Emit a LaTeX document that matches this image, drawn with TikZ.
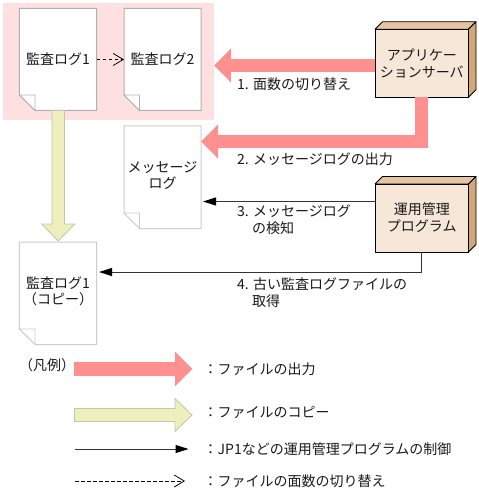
\documentclass[tikz,border=0pt]{standalone}
\usepackage{fontspec}
\setmainfont{Noto Sans CJK JP}
\usetikzlibrary{arrows.meta,calc,backgrounds}
\definecolor{pinkarrow}{HTML}{FF9090}
\definecolor{pinkgroup}{HTML}{FFE0E0}
\definecolor{yellowarrow}{HTML}{EFEFBD}
\definecolor{yellowedge}{HTML}{C4C4B0}
\definecolor{boxfront}{HTML}{F6E7D8}
\definecolor{boxtop}{HTML}{E6C4A2}
\definecolor{boxside}{HTML}{D3A878}
\definecolor{docdark}{HTML}{B0B0B0}
\definecolor{doclight}{HTML}{CCCCCC}
\tikzset{
  x=1bp,y=-1bp,
  lbl/.style={font=\fontsize{14bp}{17bp}\selectfont,inner sep=0pt,text=black!90},
  docnode/.style={lbl,minimum width=77bp,minimum height=102bp,align=center,outer sep=0pt},
  servernode/.style={lbl,draw=black,line width=0.8bp,fill=boxfront,minimum width=93.5bp,minimum height=68bp,align=center,outer sep=0pt},
  boxface/.style={draw=black,line width=0.8bp,line join=round},
  pinkline/.style={draw=pinkarrow,line width=13bp,line join=miter,-{Triangle[length=17bp,width=33bp]}},
  yellowpoly/.style={draw=yellowedge,line width=0.8bp,fill=yellowarrow,line join=miter},
  ctrlline/.style={draw=black!80,line width=1bp,-{Triangle[length=13bp,width=8bp,black]}},
  switchline/.style={draw=black,line width=0.8bp,dash pattern=on 3.5bp off 2.5bp,-{Straight Barb[length=10bp,width=12bp,line width=0.8bp]}},
}
\newcommand{\docoutline}[2]{%
  \begin{scope}[on background layer]
    \draw[#2,line width=1bp,fill=white] (#1.north west) -- (#1.north east) -- (#1.south east)
      -- ($(#1.south west)+(15.5,0)$) -- ($(#1.south west)+(0,-15.5)$) -- cycle;
    \draw[#2,line width=0.8bp,fill=white] ($(#1.south west)+(0,-15.5)$) -- ($(#1.south west)+(15.5,-15.5)$)
      -- ($(#1.south west)+(15.5,0)$) -- cycle;
  \end{scope}}
\newcommand{\boxfaces}[1]{%
  \draw[boxface,fill=boxtop] (#1.north west) -- ($(#1.north west)+(7.5,-7.5)$) -- ($(#1.north east)+(7.5,-7.5)$) -- (#1.north east) -- cycle;
  \draw[boxface,fill=boxside] (#1.north east) -- ($(#1.north east)+(7.5,-7.5)$) -- ($(#1.south east)+(7.5,-7.5)$) -- (#1.south east) -- cycle;}
\begin{document}
\begin{tikzpicture}
\useasboundingbox (0,0) rectangle (479,493);
\begin{scope}[on background layer]
  \node[fill=pinkgroup,minimum width=211bp,minimum height=117.5bp,inner sep=0pt,outer sep=0pt] (group) at (108.5,61.75) {};
\end{scope}
% documents
\node[docnode] (logA) at (58,59.5) {監査ログ1};
\node[docnode] (logB) at (162.5,59.5) {監査ログ2};
\node[docnode,minimum height=102.5bp] (msg) at (162.5,177.25) {\raisebox{0.5bp}{\begin{tabular}{@{}c@{}}メッセージ\\[-0.5bp]ログ\end{tabular}}};
\node[docnode,minimum height=102.5bp] (copy) at (58,293.25) {\raisebox{0bp}{\begin{tabular}{@{}c@{}}監査ログ1\\[-0.5bp]（コピー）\end{tabular}}};
\docoutline{logA}{docdark}
\docoutline{logB}{docdark}
\docoutline{msg}{doclight}
\docoutline{copy}{doclight}
% servers
\node[servernode] (server) at (421.75,63.25) {アプリケー\\ションサーバ};
\node[servernode] (mgmt) at (421.75,218) {運用管理\\プログラム};
\boxfaces{server}
\boxfaces{mgmt}
% connectors
\draw[switchline] (logA.east) -- (logB.west);
\draw[pinkline] (server.west |- 0,65.5) -- (group.east |- 0,65.5);
\draw[pinkline] (421.5,97) |- ($(msg.east |- 0,141.5)$);
\coordinate (copyStart) at (58.2,110.5);
\coordinate (copyEnd) at (58.2,241);
\draw[yellowpoly] ($(copyStart)+(-6.3,0)$) -- ($(copyEnd)+(-6.3,-17)$) -- ($(copyEnd)+(-16.5,-17)$) -- (copyEnd)
  -- ($(copyEnd)+(16.5,-17)$) -- ($(copyEnd)+(6.3,-17)$) -- ($(copyStart)+(6.3,0)$) -- cycle;
\draw[ctrlline] (mgmt.west |- 0,201.5) -- ($(msg.east |- 0,201.5)+(2,0)$);
\draw[ctrlline] (421.7,252) |- ($(copy.east |- 0,272)+(2.5,0)$);
% labels
\node[lbl,anchor=west] (lab1) at (237,84) {1. 面数の切り替え};
\node[lbl,anchor=west] (lab2) at (237,159) {2. メッセージログの出力};
\node[lbl,anchor=north west,align=left] (lab3) at (237,205) {3. メッセージログ\\\hspace*{15bp}の検知};
\node[lbl,anchor=north west,align=left] (lab4) at (237,278) {4. 古い監査ログファイルの\\\hspace*{15bp}取得};
% legend
\node[lbl,anchor=west] (legend) at (19,365) {（凡例）};
\coordinate (legA) at (74,369);
\coordinate (legAend) at (192.5,369);
\draw[pinkarrow,line width=13.5bp,-{Triangle[length=17.5bp,width=33.5bp]}] (legA) -- (legAend);
\coordinate (legB) at (74.5,415);
\coordinate (legBend) at (192,415);
\draw[yellowpoly] ($(legB)+(0,-6.5)$) -- ($(legBend)+(-17,-6.5)$) -- ($(legBend)+(-17,-16.5)$) -- (legBend)
  -- ($(legBend)+(-17,16.5)$) -- ($(legBend)+(-17,6.5)$) -- ($(legB)+(0,6.5)$) -- cycle;
\coordinate (legC) at (75,449);
\coordinate (legCend) at (188.5,449);
\draw[ctrlline] (legC) -- (legCend);
\coordinate (legD) at (75,481);
\coordinate (legDend) at (185,481);
\draw[switchline] (legD) -- (legDend);
\node[lbl,anchor=west] (txtA) at (203.5,369) {：ファイルの出力};
\node[lbl,anchor=west] (txtB) at (203.5,412) {：ファイルのコピー};
\node[lbl,anchor=west] (txtC) at (203.5,449) {：JP1などの運用管理プログラムの制御};
\node[lbl,anchor=west] (txtD) at (203.5,481) {：ファイルの面数の切り替え};
\end{tikzpicture}
\end{document}
